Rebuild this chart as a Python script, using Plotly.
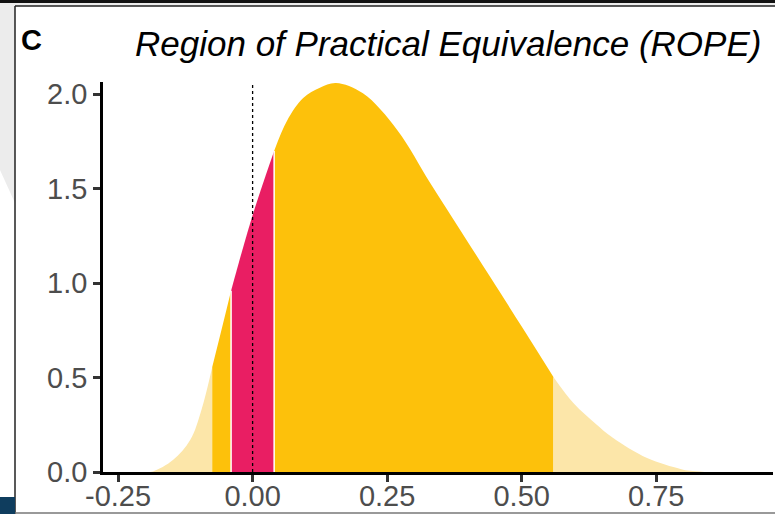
import plotly.graph_objects as go

# Posterior density of the effect (x = effect size, y = density)
density_x = [-0.200, -0.185, -0.148, -0.116, -0.095, -0.075, -0.055, -0.040,
             0.000, 0.040, 0.064, 0.094, 0.125, 0.155, 0.205, 0.269, 0.330,
             0.386, 0.441, 0.503, 0.559, 0.596, 0.640, 0.670, 0.733, 0.795,
             0.813, 0.840]
density_y = [0.000, 0.003, 0.063, 0.169, 0.330, 0.556, 0.785, 0.960,
             1.360, 1.700, 1.860, 1.980, 2.035, 2.060, 2.005, 1.810, 1.530,
             1.280, 1.035, 0.757, 0.503, 0.365, 0.249, 0.180, 0.074, 0.016,
             0.006, 0.000]

# Highest density interval and region of practical equivalence
hdi_low, hdi_high = -0.075, 0.559
rope_low, rope_high = -0.040, 0.040

x_ticks = [-0.25, 0.00, 0.25, 0.50, 0.75]
x_tick_text = ["-0.25", "0.00", "0.25", "0.50", "0.75"]
y_ticks = [0.0, 0.5, 1.0, 1.5, 2.0]
y_tick_text = ["0.0", "0.5", "1.0", "1.5", "2.0"]

title_text = "Region of Practical Equivalence (ROPE)"
panel_tag = "C"

GOLD = "#FDC10B"
LIGHT = "#FCE6A9"
PINK = "#E91E63"

W, H = 775, 514
L, R, T, B = 103, 773, 82, 472


def px(x):
    return (x - L) / (R - L)


def py(y):
    return (B - y) / (B - T)


def segment(lo, hi):
    pts = [(x, y) for x, y in zip(density_x, density_y) if lo <= x <= hi]
    return [p[0] for p in pts], [p[1] for p in pts]


fig = go.Figure()

regions = [
    (density_x[0], hdi_low, LIGHT),
    (hdi_low, rope_low, GOLD),
    (rope_low, rope_high, PINK),
    (rope_high, hdi_high, GOLD),
    (hdi_high, density_x[-1], LIGHT),
]
for lo, hi, col in regions:
    xs, ys = segment(lo, hi)
    fig.add_trace(go.Scatter(
        x=xs, y=ys, mode="lines", fill="tozeroy", fillcolor=col,
        line=dict(width=0, color=col, shape="spline", smoothing=1.0),
        hoverinfo="skip", showlegend=False,
    ))

# thin white edges on both sides of the ROPE
for edge in (rope_low, rope_high):
    h = density_y[density_x.index(edge)]
    fig.add_trace(go.Scatter(
        x=[edge, edge], y=[0, h], mode="lines",
        line=dict(color="white", width=1.5),
        hoverinfo="skip", showlegend=False,
    ))

# reference line at zero effect
fig.add_shape(type="line", xref="x", yref="paper", x0=0, x1=0, y0=0, y1=1,
              line=dict(color="black", width=1.3, dash="dot"))

# slide frame around the panel
fig.add_shape(type="path", xref="paper", yref="paper",
              path=(f"M {px(0)} {py(0)} L {px(W)} {py(0)} L {px(W)} {py(6)} "
                    f"L {px(15)} {py(6)} L {px(15)} {py(203)} L {px(0)} {py(170)} Z"),
              fillcolor="#ECECEC", line=dict(width=0), layer="below")
fig.add_shape(type="rect", xref="paper", yref="paper",
              x0=px(0), x1=px(W), y0=py(0), y1=py(3),
              fillcolor="#111111", line=dict(width=0))
fig.add_shape(type="line", xref="paper", yref="paper",
              x0=px(15), x1=px(15), y0=py(6), y1=py(H),
              line=dict(color="#222222", width=1.5))
fig.add_shape(type="line", xref="paper", yref="paper",
              x0=px(15), x1=px(W), y0=py(6), y1=py(6),
              line=dict(color="#222222", width=1.5))
fig.add_shape(type="line", xref="paper", yref="paper",
              x0=px(15), x1=px(W), y0=py(513), y1=py(513),
              line=dict(color="#777777", width=1.5))
fig.add_shape(type="rect", xref="paper", yref="paper",
              x0=px(0), x1=px(15), y0=py(497), y1=py(H),
              fillcolor="#0F3D5E", line=dict(width=0))

fig.add_annotation(text=title_text, xref="paper", yref="paper",
                   x=px(448), y=py(44), xanchor="center", yanchor="middle",
                   showarrow=False,
                   font=dict(family="Liberation Sans", size=35, color="black",
                             style="italic"))
fig.add_annotation(text=f"<b>{panel_tag}</b>", xref="paper", yref="paper",
                   x=px(31), y=py(40), xanchor="center", yanchor="middle",
                   showarrow=False,
                   font=dict(family="Liberation Sans", size=29, color="black"))

axis_common = dict(showgrid=False, zeroline=False, showline=True,
                   linecolor="black", linewidth=2.5, ticks="outside",
                   ticklen=7, tickwidth=2.5, tickcolor="#333333",
                   automargin=False,
                   tickfont=dict(family="Liberation Sans", size=29,
                                 color="#4D4D4D"))

fig.update_layout(
    width=W, height=H,
    margin=dict(l=L, r=W - R, t=T, b=H - B, autoexpand=False),
    paper_bgcolor="white", plot_bgcolor="white",
    xaxis=dict(range=[-0.278, 0.967], tickvals=x_ticks, ticktext=x_tick_text,
               ticklabelstandoff=-11, **axis_common),
    yaxis=dict(range=[0, 2.065], tickvals=y_ticks, ticktext=y_tick_text,
               **axis_common),
    showlegend=False,
)

fig.write_html("out.html")
